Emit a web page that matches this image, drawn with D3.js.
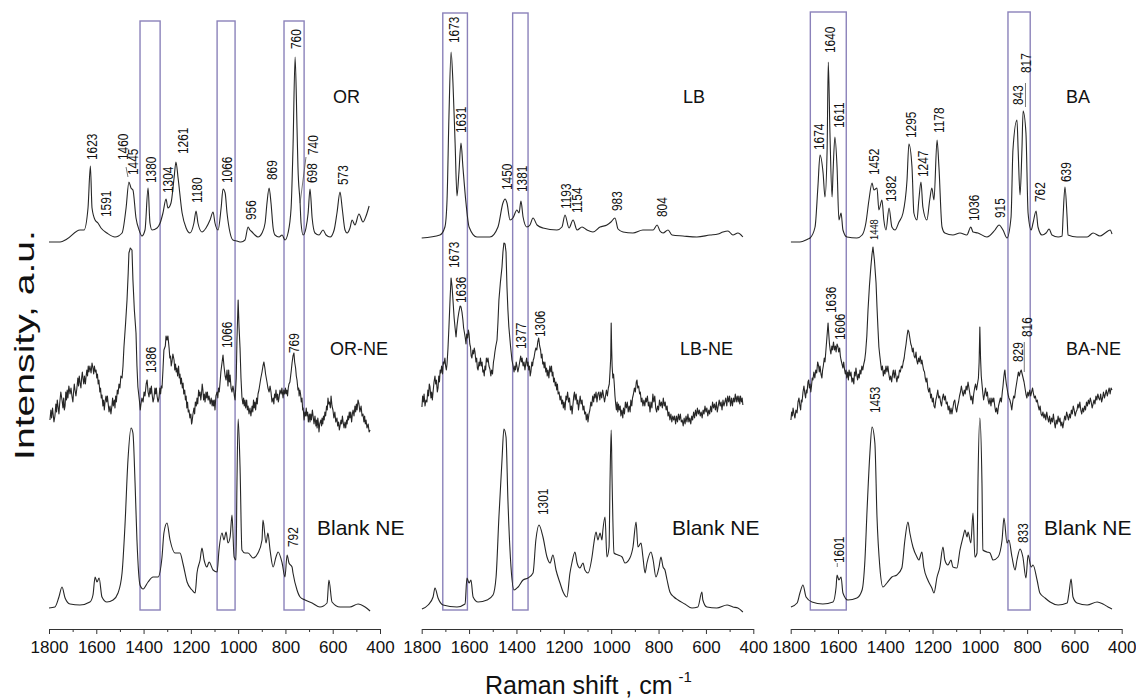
<!DOCTYPE html>
<meta charset="utf-8">
<style>
body { margin: 0; background: #fff; }
text { font-family: Arial, "Liberation Sans", sans-serif; fill: #111; }
.trace { fill: none; stroke: #262626; stroke-width: 1.1px; stroke-linejoin: round; }
.box { fill: none; stroke: #8b82ba; stroke-width: 1.4px; }
.leader { stroke: #555; stroke-width: 0.8px; }
.axis path, .axis line { stroke: #333; stroke-width: 1px; }
.axis text { font-size: 17px; fill: #111; }
.peak { font-size: 14px; }
.name { font-size: 18px; }
</style>
<body>
<svg width="1136" height="698"></svg>
<script src="https://cdn.jsdelivr.net/npm/d3@7"></script>
<script>
// spectra: [Raman shift cm-1, intensity a.u. (stacked, offset included)]
var orTop = [[1800,386],[1753,386],[1724,389],[1669,398],[1652,398],[1635,420],[1625,462],[1618,420],[1605,408],[1593,405],[1580,400],[1555,395],[1521,391],[1491,395],[1474,420],[1462,446],[1453,440],[1445,438],[1432,410],[1419,398],[1407,392],[1394,398],[1381,440],[1373,405],[1364,398],[1343,400],[1330,405],[1318,415],[1305,429],[1297,420],[1284,425],[1271,450],[1263,466],[1254,450],[1237,415],[1220,400],[1204,395],[1187,405],[1178,417],[1170,405],[1153,396],[1136,400],[1119,408],[1106,416],[1098,405],[1085,398],[1072,420],[1064,439],[1055,435],[1047,415],[1034,395],[1022,388],[1005,387],[988,386],[971,388],[958,401],[950,398],[941,396],[929,393],[916,391],[899,395],[886,405],[878,425],[869,440],[861,425],[852,400],[844,393],[827,391],[814,393],[802,388],[789,395],[776,420],[768,480],[759,571],[751,500],[747,461],[738,425],[734,405],[725,393],[713,400],[704,415],[696,439],[687,410],[675,395],[658,393],[641,398],[628,393],[611,391],[594,398],[582,415],[569,436],[560,420],[548,398],[539,395],[527,400],[518,408],[506,403],[489,414],[472,406],[459,412],[446,422]];
var orNe = [[1796,208],[1792,218],[1789,210],[1785,220],[1783,215],[1779,206],[1775,212],[1771,224],[1768,216],[1765,228],[1762,222],[1758,214],[1755,224],[1750,236],[1745,228],[1741,220],[1738,230],[1735,218],[1732,222],[1729,236],[1726,228],[1723,238],[1720,230],[1716,242],[1711,234],[1707,240],[1703,232],[1699,226],[1696,236],[1693,244],[1690,238],[1686,232],[1682,240],[1678,250],[1675,242],[1672,252],[1669,246],[1665,240],[1662,250],[1659,256],[1656,249],[1653,244],[1650,252],[1646,244],[1643,252],[1640,258],[1637,252],[1634,262],[1631,256],[1627,262],[1622,255],[1618,265],[1614,260],[1611,254],[1608,262],[1604,256],[1601,258],[1598,250],[1595,254],[1592,244],[1589,248],[1585,236],[1582,240],[1579,230],[1576,233],[1572,222],[1569,228],[1566,218],[1563,226],[1559,232],[1556,226],[1553,232],[1550,225],[1546,216],[1542,222],[1538,214],[1534,222],[1531,230],[1528,222],[1524,228],[1521,220],[1518,232],[1515,226],[1511,238],[1508,234],[1504,244],[1500,240],[1496,252],[1491,250],[1487,262],[1483,281],[1476,305],[1470,328],[1465,355],[1462,375],[1456,380],[1449,378],[1445,348],[1439,318],[1432,295],[1428,262],[1424,241],[1417,226],[1414,218],[1411,224],[1407,230],[1402,226],[1398,236],[1394,232],[1389,244],[1385,248],[1381,236],[1377,231],[1373,240],[1370,234],[1367,242],[1364,234],[1360,226],[1356,230],[1352,240],[1349,234],[1346,240],[1343,232],[1339,226],[1335,230],[1331,240],[1328,234],[1325,242],[1322,240],[1318,258],[1314,278],[1308,282],[1305,292],[1301,288],[1297,292],[1292,280],[1289,270],[1286,272],[1283,262],[1280,266],[1276,274],[1271,268],[1268,258],[1265,264],[1262,256],[1259,260],[1256,252],[1252,262],[1249,250],[1246,254],[1243,244],[1240,250],[1236,240],[1233,245],[1230,234],[1226,238],[1223,228],[1220,232],[1217,220],[1214,226],[1211,216],[1208,218],[1204,210],[1200,214],[1197,204],[1195,206],[1191,214],[1187,220],[1184,214],[1181,226],[1177,222],[1174,230],[1171,224],[1167,238],[1164,232],[1161,236],[1158,228],[1155,234],[1152,244],[1149,238],[1146,228],[1143,234],[1140,226],[1136,236],[1133,230],[1130,236],[1127,228],[1123,232],[1118,224],[1114,230],[1110,222],[1107,228],[1104,222],[1101,228],[1098,218],[1094,232],[1089,236],[1086,230],[1083,240],[1080,236],[1077,244],[1073,256],[1070,262],[1064,273],[1060,262],[1055,252],[1051,248],[1047,258],[1043,242],[1040,258],[1037,246],[1034,253],[1030,240],[1026,236],[1022,242],[1019,238],[1016,232],[1013,228],[1008,250],[1005,288],[1000,328],[996,300],[992,280],[988,250],[984,231],[980,224],[977,230],[974,222],[971,228],[968,220],[964,228],[961,218],[958,222],[954,214],[950,220],[946,212],[941,222],[938,216],[935,228],[932,220],[929,226],[926,218],[922,230],[919,224],[916,234],[912,238],[908,244],[904,250],[899,256],[895,262],[891,266],[887,260],[884,254],[881,250],[878,246],[874,240],[869,236],[865,242],[861,236],[857,226],[852,230],[849,224],[846,234],[843,230],[840,238],[836,228],[833,234],[830,226],[827,230],[823,238],[818,234],[815,240],[810,230],[807,238],[803,234],[800,240],[797,234],[794,238],[791,232],[788,240],[785,244],[781,246],[778,252],[775,258],[772,265],[768,272],[764,275],[761,266],[757,260],[754,252],[751,248],[747,238],[744,240],[742,232],[739,238],[736,234],[733,226],[730,230],[727,218],[725,220],[721,208],[718,216],[715,212],[712,220],[709,212],[706,216],[703,206],[699,214],[696,206],[693,214],[690,208],[686,218],[683,212],[679,204],[675,212],[671,202],[668,208],[666,200],[663,210],[661,206],[658,196],[655,204],[650,208],[647,202],[645,210],[642,204],[639,212],[636,208],[633,216],[630,212],[626,222],[623,218],[620,230],[617,224],[614,226],[610,220],[607,232],[603,222],[599,218],[595,210],[591,216],[587,206],[582,210],[579,202],[575,206],[572,198],[569,202],[565,208],[562,204],[559,212],[556,206],[552,200],[548,206],[545,200],[541,208],[539,204],[536,212],[533,208],[530,216],[527,210],[524,216],[520,206],[517,214],[514,218],[510,212],[506,222],[503,216],[500,224],[497,218],[493,228],[489,224],[485,216],[480,222],[476,212],[472,214],[468,206],[465,212],[462,204],[459,208],[455,200],[450,204],[446,196],[442,198]];
var orBlank = [[1800,20],[1775,21],[1758,31],[1745,41],[1732,30],[1711,24],[1669,23],[1627,26],[1614,33],[1605,51],[1597,46],[1588,50],[1576,31],[1555,26],[1529,28],[1508,35],[1491,55],[1479,101],[1466,168],[1453,200],[1445,195],[1436,145],[1428,88],[1415,43],[1402,39],[1381,46],[1360,51],[1339,51],[1322,71],[1314,95],[1301,105],[1288,88],[1267,75],[1246,75],[1233,64],[1216,46],[1195,38],[1182,35],[1174,55],[1161,68],[1153,80],[1144,68],[1132,61],[1123,66],[1106,58],[1089,56],[1081,78],[1068,95],[1060,88],[1051,96],[1043,85],[1034,91],[1026,113],[1017,71],[1009,68],[1005,145],[1000,209],[992,161],[984,78],[971,75],[958,75],[937,70],[916,75],[899,88],[895,108],[882,85],[874,95],[865,78],[852,61],[840,71],[831,76],[814,65],[802,51],[793,73],[785,65],[772,61],[768,55],[751,38],[738,31],[717,28],[687,25],[654,21],[624,25],[616,48],[603,26],[569,21],[527,21],[493,24],[463,21],[442,17]];

var lbTop = [[1800,390],[1723,393],[1702,401],[1693,428],[1685,511],[1676,576],[1668,545],[1659,485],[1651,432],[1643,455],[1634,485],[1626,461],[1613,425],[1600,401],[1567,391],[1512,391],[1478,401],[1457,425],[1448,429],[1440,425],[1427,408],[1415,410],[1398,418],[1389,415],[1381,427],[1372,411],[1356,401],[1343,403],[1330,410],[1313,403],[1288,400],[1229,398],[1208,401],[1195,413],[1178,400],[1161,408],[1144,398],[1123,401],[1102,398],[1077,396],[1047,401],[1018,403],[1001,406],[984,410],[971,399],[950,396],[908,395],[866,398],[823,398],[806,403],[794,397],[781,395],[760,398],[743,393],[697,392],[638,391],[583,393],[549,394],[528,396],[507,397],[486,393],[465,395],[444,391]];
var lbNe = [[1799,221],[1796,232],[1793,226],[1790,234],[1786,222],[1782,228],[1778,226],[1774,238],[1771,232],[1768,244],[1765,241],[1761,230],[1758,236],[1755,228],[1752,236],[1748,246],[1744,252],[1741,244],[1738,248],[1734,236],[1731,240],[1728,252],[1725,246],[1722,258],[1719,255],[1716,262],[1712,254],[1709,266],[1706,264],[1702,270],[1699,262],[1696,258],[1693,264],[1689,280],[1685,301],[1680,330],[1676,350],[1672,342],[1668,328],[1663,310],[1659,300],[1655,291],[1651,302],[1647,310],[1643,316],[1638,322],[1634,321],[1630,316],[1626,308],[1623,300],[1620,296],[1616,290],[1613,284],[1610,294],[1606,290],[1603,298],[1600,294],[1597,284],[1594,281],[1591,272],[1588,270],[1584,278],[1581,274],[1578,280],[1575,276],[1571,266],[1568,270],[1565,260],[1562,258],[1558,266],[1555,262],[1552,270],[1548,262],[1545,266],[1542,256],[1539,258],[1536,252],[1533,262],[1530,258],[1527,270],[1524,266],[1520,270],[1516,262],[1512,259],[1508,252],[1505,258],[1501,254],[1497,266],[1494,270],[1491,276],[1487,282],[1482,288],[1478,306],[1474,328],[1468,345],[1461,361],[1457,376],[1453,385],[1448,384],[1444,376],[1440,341],[1436,318],[1432,301],[1425,282],[1419,268],[1414,262],[1410,256],[1407,262],[1404,258],[1401,266],[1398,262],[1394,256],[1389,262],[1385,268],[1382,272],[1379,266],[1376,270],[1372,262],[1368,266],[1364,258],[1360,266],[1357,270],[1354,262],[1351,266],[1348,258],[1345,262],[1342,252],[1339,256],[1335,266],[1332,262],[1329,268],[1326,270],[1322,276],[1318,280],[1314,278],[1310,286],[1306,290],[1302,282],[1298,278],[1295,270],[1292,274],[1289,264],[1286,266],[1283,260],[1280,266],[1276,256],[1273,260],[1270,252],[1267,258],[1263,250],[1259,262],[1255,256],[1252,262],[1249,252],[1246,256],[1243,246],[1240,250],[1236,242],[1233,246],[1230,238],[1227,244],[1224,234],[1220,236],[1216,228],[1212,232],[1209,224],[1205,228],[1202,220],[1199,226],[1195,218],[1191,232],[1188,228],[1184,236],[1180,226],[1176,230],[1172,218],[1168,222],[1165,214],[1162,222],[1158,232],[1155,236],[1152,228],[1148,234],[1144,224],[1141,228],[1138,218],[1134,226],[1131,232],[1127,224],[1123,228],[1119,218],[1115,222],[1112,214],[1108,216],[1105,208],[1101,214],[1098,206],[1094,214],[1090,218],[1086,226],[1082,222],[1078,232],[1074,226],[1071,234],[1068,230],[1064,236],[1060,226],[1056,234],[1052,236],[1048,228],[1044,236],[1040,230],[1036,238],[1032,232],[1028,226],[1024,232],[1020,238],[1016,232],[1012,240],[1008,244],[1005,256],[1002,270],[1000,305],[998,280],[996,262],[993,250],[990,254],[987,244],[984,232],[981,224],[978,218],[975,226],[972,216],[969,224],[966,218],[962,222],[959,212],[955,218],[951,210],[948,220],[944,214],[940,226],[936,220],[932,226],[928,216],[924,222],[920,216],[917,228],[913,222],[910,230],[906,234],[902,240],[898,236],[894,246],[891,248],[888,240],[884,242],[880,234],[877,236],[873,226],[870,230],[866,222],[862,228],[858,222],[854,230],[851,226],[847,232],[843,222],[840,226],[836,216],[832,226],[828,220],[824,234],[820,226],[816,232],[812,220],[808,216],[804,222],[800,218],[796,228],[792,222],[788,226],[784,220],[780,230],[776,222],[772,226],[768,218],[764,222],[760,212],[756,216],[752,208],[748,214],[744,206],[740,212],[736,208],[732,212],[728,204],[724,212],[720,206],[716,214],[712,208],[708,214],[704,206],[700,208],[696,202],[692,210],[688,204],[684,212],[680,206],[676,214],[672,206],[668,210],[664,204],[660,212],[656,208],[652,216],[648,210],[644,218],[640,212],[636,220],[632,214],[628,218],[624,212],[620,216],[616,210],[612,218],[608,214],[604,222],[600,216],[596,220],[592,212],[588,218],[584,214],[580,222],[576,216],[572,226],[568,220],[564,224],[560,218],[556,226],[552,216],[548,222],[544,228],[540,222],[536,226],[532,218],[528,228],[524,222],[520,226],[516,230],[512,222],[508,232],[504,226],[500,232],[496,222],[492,230],[488,222],[484,230],[480,226],[476,234],[472,226],[468,232],[464,226],[461,232],[457,224],[454,232],[450,226],[447,230],[444,223]];
var lbBlank = [[1799,19],[1773,23],[1752,31],[1744,40],[1731,30],[1710,23],[1651,21],[1617,24],[1609,50],[1600,45],[1592,48],[1583,31],[1562,26],[1524,28],[1499,33],[1486,51],[1474,111],[1461,168],[1453,199],[1444,191],[1436,128],[1423,61],[1410,38],[1393,41],[1372,48],[1351,50],[1330,55],[1318,88],[1305,103],[1288,91],[1271,71],[1258,65],[1246,73],[1233,58],[1216,45],[1203,36],[1187,31],[1174,55],[1166,65],[1153,76],[1144,65],[1132,60],[1119,65],[1111,58],[1098,55],[1081,71],[1073,85],[1064,96],[1056,88],[1047,95],[1039,88],[1035,98],[1026,111],[1018,71],[1009,81],[1005,145],[1000,198],[996,145],[988,75],[971,73],[954,71],[942,65],[921,70],[908,81],[895,106],[887,81],[874,85],[866,71],[857,55],[849,65],[832,76],[823,68],[811,51],[798,61],[790,71],[781,61],[773,58],[764,48],[752,36],[735,31],[718,28],[689,24],[659,20],[634,21],[617,36],[613,28],[596,21],[554,20],[511,23],[486,21],[465,20],[444,16]];

var baTop = [[1799,386],[1761,386],[1727,389],[1718,390],[1697,401],[1685,441],[1676,473],[1663,455],[1655,431],[1646,478],[1641,566],[1634,495],[1625,431],[1621,455],[1613,491],[1604,461],[1596,408],[1587,415],[1579,398],[1562,391],[1520,390],[1498,393],[1482,405],[1469,428],[1456,445],[1448,438],[1435,440],[1427,418],[1414,428],[1406,408],[1397,398],[1384,420],[1372,401],[1359,398],[1342,406],[1325,415],[1308,448],[1300,484],[1287,461],[1279,415],[1266,408],[1258,428],[1249,446],[1241,421],[1224,408],[1212,428],[1203,440],[1194,428],[1181,488],[1173,461],[1160,401],[1148,395],[1114,393],[1084,395],[1055,393],[1038,401],[1029,396],[1008,395],[970,391],[936,398],[919,403],[902,398],[885,390],[868,411],[860,478],[843,508],[838,478],[830,433],[822,478],[817,517],[805,495],[796,415],[783,398],[775,405],[762,417],[754,401],[737,393],[720,395],[707,399],[695,393],[669,391],[652,392],[648,411],[640,441],[631,411],[627,393],[589,391],[546,391],[521,395],[492,392],[470,395],[449,398],[441,394]];
var baNe = [[1799,208],[1796,216],[1793,212],[1790,220],[1786,214],[1782,210],[1778,218],[1773,215],[1769,226],[1765,230],[1761,222],[1758,218],[1755,228],[1752,226],[1748,236],[1744,242],[1740,234],[1737,230],[1734,238],[1731,235],[1727,246],[1724,248],[1721,240],[1718,244],[1715,236],[1712,242],[1709,250],[1706,248],[1702,256],[1698,250],[1694,258],[1690,255],[1686,266],[1682,262],[1679,256],[1676,262],[1672,254],[1668,250],[1665,258],[1662,262],[1658,270],[1655,266],[1651,278],[1647,290],[1642,305],[1639,294],[1636,284],[1633,278],[1630,274],[1626,282],[1623,278],[1619,286],[1615,278],[1611,282],[1608,276],[1604,284],[1600,281],[1597,276],[1593,280],[1590,272],[1587,268],[1583,264],[1579,260],[1576,266],[1572,258],[1569,254],[1566,258],[1563,250],[1559,256],[1556,248],[1553,258],[1549,252],[1545,256],[1541,246],[1537,250],[1533,244],[1530,256],[1527,252],[1524,260],[1520,252],[1517,248],[1514,254],[1510,250],[1507,258],[1503,254],[1499,262],[1495,258],[1491,264],[1487,268],[1483,276],[1478,292],[1473,318],[1467,342],[1461,361],[1456,374],[1452,381],[1446,368],[1439,345],[1435,321],[1431,300],[1427,281],[1423,272],[1419,264],[1416,258],[1412,262],[1408,252],[1404,258],[1401,254],[1397,262],[1393,256],[1389,262],[1385,254],[1381,248],[1377,252],[1373,246],[1369,254],[1366,258],[1362,250],[1358,258],[1355,252],[1351,246],[1347,252],[1344,250],[1340,258],[1336,256],[1332,262],[1328,260],[1324,266],[1320,270],[1317,276],[1312,284],[1308,292],[1304,298],[1300,296],[1296,290],[1292,284],[1289,282],[1285,276],[1282,280],[1278,272],[1274,270],[1270,276],[1267,268],[1263,264],[1259,270],[1256,266],[1252,272],[1248,264],[1245,268],[1241,262],[1238,258],[1234,256],[1231,250],[1227,246],[1224,250],[1220,240],[1216,236],[1212,240],[1208,230],[1205,234],[1201,226],[1197,230],[1194,222],[1190,220],[1186,228],[1182,232],[1178,238],[1174,230],[1170,232],[1166,226],[1162,222],[1158,230],[1154,234],[1150,228],[1146,232],[1142,224],[1138,226],[1134,218],[1130,222],[1126,214],[1122,220],[1118,214],[1114,220],[1110,226],[1106,228],[1102,220],[1098,216],[1094,222],[1090,226],[1086,232],[1082,236],[1078,242],[1074,236],[1070,232],[1066,238],[1062,234],[1058,242],[1054,238],[1050,246],[1046,240],[1042,234],[1038,228],[1034,232],[1030,224],[1026,234],[1022,240],[1018,244],[1014,238],[1010,244],[1006,250],[1003,266],[1000,301],[997,270],[994,252],[991,244],[987,234],[984,228],[980,234],[976,240],[972,232],[968,236],[965,228],[961,224],[957,230],[953,222],[949,230],[945,226],[941,230],[937,222],[933,216],[929,220],[925,214],[921,222],[917,226],[913,230],[909,226],[905,236],[902,242],[899,250],[896,256],[894,258],[891,250],[888,244],[885,240],[881,234],[877,230],[873,228],[869,224],[865,218],[861,226],[857,232],[853,230],[849,238],[845,244],[841,250],[837,256],[833,252],[829,256],[825,258],[821,254],[817,250],[813,246],[809,240],[805,234],[801,230],[797,236],[793,232],[789,238],[785,232],[781,236],[777,240],[773,234],[769,230],[765,232],[761,226],[757,228],[753,222],[749,218],[745,222],[741,214],[737,212],[733,216],[729,210],[725,214],[721,208],[717,216],[713,210],[709,206],[705,212],[701,204],[697,210],[693,206],[689,214],[685,206],[681,200],[677,208],[673,204],[669,212],[665,206],[661,210],[657,202],[653,206],[649,200],[645,206],[641,212],[637,208],[633,216],[629,212],[625,208],[621,214],[617,210],[613,218],[609,214],[605,222],[601,218],[597,212],[593,216],[589,218],[585,224],[581,220],[577,226],[573,218],[569,214],[565,220],[561,216],[557,222],[553,218],[549,226],[545,222],[541,228],[537,224],[533,230],[529,226],[525,220],[521,224],[517,228],[513,224],[509,232],[505,228],[501,234],[497,230],[493,228],[489,234],[485,226],[481,230],[477,236],[473,230],[469,234],[465,238],[461,232],[457,236],[453,240],[449,234],[445,240],[441,238]];
var baBlank = [[1799,21],[1773,25],[1761,35],[1748,43],[1735,31],[1710,26],[1664,24],[1621,26],[1608,41],[1604,53],[1596,48],[1587,51],[1579,35],[1558,28],[1520,30],[1498,38],[1486,68],[1477,118],[1465,175],[1456,201],[1444,185],[1435,111],[1423,61],[1410,41],[1393,45],[1372,51],[1351,53],[1330,60],[1317,88],[1304,106],[1296,95],[1283,81],[1266,71],[1258,68],[1245,76],[1237,61],[1220,48],[1203,40],[1194,35],[1181,51],[1169,61],[1156,81],[1148,68],[1135,63],[1122,68],[1114,61],[1097,60],[1084,78],[1071,91],[1063,98],[1054,91],[1050,96],[1038,85],[1029,115],[1021,71],[1012,75],[1008,145],[1000,210],[991,145],[987,78],[970,76],[957,75],[944,68],[923,71],[906,88],[898,110],[885,85],[877,88],[864,71],[851,58],[843,68],[830,79],[818,71],[805,50],[796,73],[783,61],[775,63],[758,48],[746,35],[724,30],[703,26],[669,23],[631,25],[623,35],[614,49],[606,31],[589,25],[546,23],[504,26],[479,24],[458,21],[441,19]];

// highlighted bands [from, to] in cm-1
var orBoxes = [[1415,1330],[1089,1013],[806,721]];
var lbBoxes = [[1711,1607],[1416,1351]];
var baBoxes = [[1717,1565],[881,787]];

// peak labels [position cm-1, intensity at label foot, text]
var orPeaks = [[1619,468,"1623"],[1560,411,"1591"],[1486,468,"1460"],[1443,453,"1445"],[1366,445,"1380"],[1295,435,"1304"],[1232,474,"1261"],[1173,425,"1180"],[1048,445,"1066"],[943,408,"956"],[858,448,"869"],[754,579,"760"],[682,473,"740"],[689,445,"698"],[555,443,"573"],
  [1366,255,"1386"],[1048,280,"1066"],[761,275,"769"],[769,81,"792"]];
var lbPeaks = [[1661,585,"1673"],[1635,495,"1631"],[1439,438,"1450"],[1378,436,"1381"],[1191,419,"1193"],[1143,415,"1154"],[974,417,"983"],[783,411,"804"],
  [1664,360,"1673"],[1635,325,"1636"],[1382,279,"1377"],[1298,291,"1306"],[1289,113,"1301"]];
var baPeaks = [[1679,478,"1674"],[1634,575,"1640"],[1594,500,"1611"],[1448,453,"1452"],[1375,426,"1382"],[1292,490,"1295"],[1239,451,"1247"],[1171,495,"1178"],[1025,407,"1036"],[912,410,"915"],[839,523,"843"],[803,555,"817"],[743,426,"762"],[636,446,"639"],
  [1631,315,"1636"],[1589,288,"1606"],[836,266,"829"],[802,291,"816"],[1443,215,"1453"],[1596,65,"1601"],[816,85,"833"]];
var smallPeaks = [[1446,388,"1448"]];

// leader lines [w1, i1, w2, i2]
var orLeaders = [[1474,461,1466,451],[713,471,738,425]];
var baLeaders = [[807,545,807,521],[812,286,812,256],[1603,65,1603,61]];

var panelNames = [["OR","OR-NE","Blank NE"],["LB","LB-NE","Blank NE"],["BA","BA-NE","Blank NE"]];
var ticksMajor = [1800,1600,1400,1200,1000,800,600,400];
var ticksMinor = [1700,1500,1300,1100,900,700,500];

var svg = d3.select("svg");

var y = d3.scaleLinear().domain([0, 620]).range([628, 8]);

var panels = [
  {range:[49,380], traces:[orTop,orNe,orBlank], noisy:[false,true,false], boxes:orBoxes, boxTop:607, peaks:orPeaks, leaders:orLeaders, names:panelNames[0], nameX:[333,330,317]},
  {range:[421.7,753.3], traces:[lbTop,lbNe,lbBlank], noisy:[false,true,false], boxes:lbBoxes, boxTop:615, peaks:lbPeaks, leaders:[], names:panelNames[1], nameX:[683,680,672]},
  {range:[790.7,1121.7], traces:[baTop,baNe,baBlank], noisy:[false,true,false], boxes:baBoxes, boxTop:616, peaks:baPeaks, leaders:baLeaders, names:panelNames[2], nameX:[1066,1066,1044]}
];
var nameY = [103, 355, 535];

panels.forEach(function(p, pi) {
  var x = d3.scaleLinear().domain([1800, 400]).range(p.range);
  var g = svg.append("g");

  // bands
  g.selectAll("rect.box")
    .data(p.boxes)
    .enter().append("rect")
      .attr("class", "box")
      .attr("x", function(d) { return x(d[0]); })
      .attr("width", function(d) { return x(d[1]) - x(d[0]); })
      .attr("y", y(p.boxTop))
      .attr("height", y(18) - y(p.boxTop));

  // spectra
  p.traces.forEach(function(t, ti) {
    var line = d3.line()
        .x(function(d) { return x(d[0]); })
        .y(function(d) { return y(d[1]); })
        .curve(p.noisy[ti] ? d3.curveLinear : d3.curveMonotoneX);
    g.append("path")
        .datum(t)
        .attr("class", "trace")
        .attr("d", line);
  });

  // peak labels
  g.selectAll("text.peak")
    .data(p.peaks)
    .enter().append("text")
      .attr("class", "peak")
      .attr("dominant-baseline", "central")
      .attr("transform", function(d) { return "translate(" + x(d[0]) + "," + y(d[1]) + ") rotate(-90) scale(0.85,1)"; })
      .text(function(d) { return d[2]; });

  g.selectAll("line.leader")
    .data(p.leaders)
    .enter().append("line")
      .attr("class", "leader")
      .attr("x1", function(d) { return x(d[0]); })
      .attr("y1", function(d) { return y(d[1]); })
      .attr("x2", function(d) { return x(d[2]); })
      .attr("y2", function(d) { return y(d[3]); });

  if (pi == 2) {
    g.selectAll("text.small")
      .data(smallPeaks)
      .enter().append("text")
        .attr("dominant-baseline", "central")
        .style("font-size", "11px")
        .attr("transform", function(d) { return "translate(" + x(d[0]) + "," + y(d[1]) + ") rotate(-90) scale(0.85,1)"; })
        .text(function(d) { return d[2]; });
  }

  // sample names
  p.names.forEach(function(n, ni) {
    g.append("text")
        .attr("class", "name")
        .attr("x", p.nameX[ni])
        .attr("y", nameY[ni])
        .style("font-size", ni == 2 ? "21px" : "18px")
        .text(n);
  });

  // axis
  g.append("g")
      .attr("class", "axis")
      .attr("transform", "translate(0,629)")
      .call(d3.axisBottom(x).tickValues(ticksMajor).tickSize(5).tickSizeOuter(0).tickPadding(7).tickFormat(d3.format("d")));
  g.append("g")
      .attr("class", "axis")
      .attr("transform", "translate(0,629)")
      .call(d3.axisBottom(x).tickValues(ticksMinor).tickSize(3).tickFormat(""))
      .select(".domain").remove();
});

// axis titles
svg.append("text")
    .attr("transform", "translate(34,345) rotate(-90)")
    .attr("text-anchor", "middle")
    .attr("textLength", 230)
    .attr("lengthAdjust", "spacingAndGlyphs")
    .style("font-size", "27px")
    .text("Intensity, a.u.");

var xt = svg.append("text")
    .attr("x", 485)
    .attr("y", 694)
    .style("font-size", "25px");
xt.append("tspan").text("Raman shift , cm");
xt.append("tspan").attr("dx", 6).attr("dy", -12).style("font-size", "15px").text("-1");
</script>
</body>
